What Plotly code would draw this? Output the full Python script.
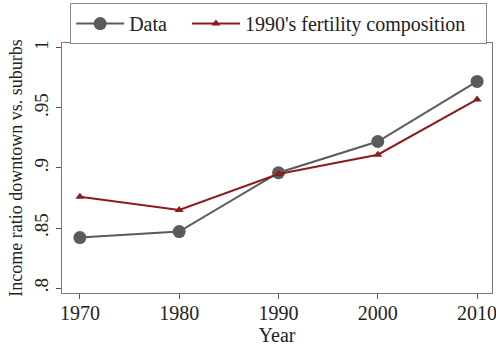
import plotly.graph_objects as go

years = [1970, 1980, 1990, 2000, 2010]
data_vals = [0.842, 0.847, 0.896, 0.922, 0.972]
fert_vals = [0.876, 0.865, 0.895, 0.911, 0.957]
y_ticks = [0.8, 0.85, 0.9, 0.95, 1.0]
y_tick_text = [".8", ".85", ".9", ".95", "1"]
series_names = ["Data\u00a0\u00a0\u00a0", "1990's fertility composition\u00a0\u00a0\u00a0"]

gray = "#5b5b5b"
red = "#8c1c1c"
font = "Liberation Serif"

fig = go.Figure()
fig.add_trace(go.Scatter(x=years, y=data_vals, mode="lines+markers", name=series_names[0],
                         line=dict(color=gray, width=2),
                         marker=dict(color=gray, size=13, symbol="circle")))
fig.add_trace(go.Scatter(x=years, y=fert_vals, mode="lines+markers", name=series_names[1],
                         line=dict(color=red, width=2),
                         marker=dict(color=red, size=8, symbol="triangle-up")))

fig.update_layout(
    width=496, height=349,
    margin=dict(l=62, r=4, t=42, b=56),
    paper_bgcolor="white", plot_bgcolor="white",
    font=dict(family=font, size=20, color="#222"),
    legend=dict(orientation="h", x=0.019, y=1.155, xanchor="left", yanchor="top",
                bordercolor="#888", borderwidth=1, font=dict(size=20, family=font),
                itemwidth=48, tracegroupgap=0),
    showlegend=True,
)
fig.update_xaxes(range=[1968.2, 2011.5], tickvals=years, ticks="outside", ticklen=5,
                 tickcolor="#555", showgrid=False, zeroline=False,
                 showline=True, linecolor="#777", mirror=True, automargin=False,
                 tickfont=dict(size=20), ticklabeloverflow="allow", ticklabelstandoff=-3,
                 title=dict(text="Year", standoff=0, font=dict(size=20)))
fig.update_yaxes(range=[0.7959, 1.004], tickvals=y_ticks, ticktext=y_tick_text,
                 ticks="outside", ticklen=5, tickcolor="#555", tickangle=-90,
                 showgrid=False, zeroline=False,
                 showline=True, linecolor="#777", mirror=True,
                 tickfont=dict(size=19),
                 title=dict(text="Income ratio downtown vs. suburbs", standoff=4, font=dict(size=18)))

fig.write_html("out.html")
